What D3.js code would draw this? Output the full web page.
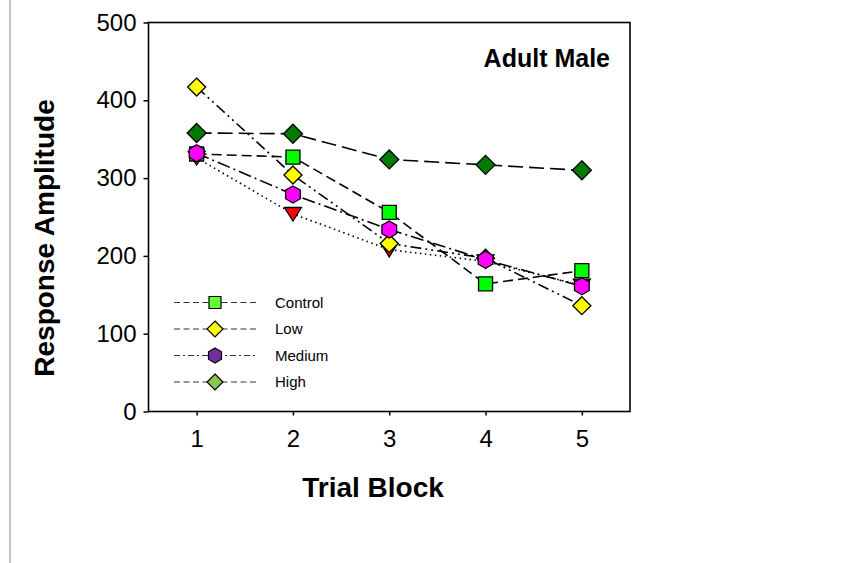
<!DOCTYPE html>
<html><head><meta charset="utf-8">
<script src="https://cdn.jsdelivr.net/npm/d3@7"></script>
<style>body{margin:0;background:#fff}svg{display:block}text{font-family:"Liberation Sans",Arial,sans-serif}</style>
</head><body>
<svg id="c" width="860" height="563"></svg>
<script>
const trials = [1, 2, 3, 4, 5];
const controlVals = [331, 327, 256, 164, 181];
const lowVals = [417, 304, 216, 197, 136];
const mediumVals = [332, 279, 234, 195, 161];
const highVals = [358, 357, 324, 317, 310];
const extraVals = [326, 254, 208, 193, 162];
const yTicks = [0, 100, 200, 300, 400, 500];
const legendLabels = ["Control", "Low", "Medium", "High"];
const titleText = "Adult Male";
const xTitle = "Trial Block";
const yTitle = "Response Amplitude";

const svg = d3.select("#c");
svg.append("rect").attr("width", 860).attr("height", 563).attr("fill", "#fff");
svg.append("line").attr("x1", 10).attr("x2", 10).attr("y1", 0).attr("y2", 563)
  .attr("stroke", "#c4c4c4").attr("stroke-width", 2);

const L = 148.5, R = 630, T = 22.5, B = 411.5;
const x = d3.scaleLinear().domain([0.5, 5.5]).range([L, R]);
const y = d3.scaleLinear().domain([0, 500]).range([B, T]);

// frame
svg.append("rect").attr("x", L).attr("y", T).attr("width", R - L).attr("height", B - T)
  .attr("fill", "none").attr("stroke", "#000").attr("stroke-width", 1.6);

// y axis
const yAxis = d3.axisLeft(y).tickValues(yTicks).tickSize(5).tickPadding(7).tickFormat(d3.format("d"));
const gy = svg.append("g").attr("transform", `translate(${L},0)`).call(yAxis);
gy.select(".domain").remove();
gy.selectAll("line").attr("stroke-width", 1.5);
gy.selectAll("text").attr("font-size", 24).attr("fill", "#000");

// x axis
const xAxis = d3.axisBottom(x).tickValues(trials).tickSize(4).tickPadding(14).tickFormat(d3.format("d"));
const gx = svg.append("g").attr("transform", `translate(0,${B})`).call(xAxis);
gx.select(".domain").remove();
gx.selectAll("line").attr("stroke-width", 1.5);
gx.selectAll("text").attr("font-size", 24).attr("fill", "#000");

svg.append("text").attr("x", 373).attr("y", 497).attr("text-anchor", "middle")
  .attr("font-size", 28).attr("font-weight", "bold").text(xTitle);
svg.append("text").attr("transform", `translate(54,238) rotate(-90)`)
  .attr("text-anchor", "middle").attr("font-size", 28).attr("font-weight", "bold").text(yTitle);
svg.append("text").attr("x", 610).attr("y", 67).attr("text-anchor", "end")
  .attr("font-size", 25).attr("font-weight", "bold").text(titleText);

// marker shapes
function shapePath(kind, s) {
  if (kind === "square") return `M${-s},${-s}H${s}V${s}H${-s}Z`;
  if (kind === "diamond") return `M0,${-s}L${s},0L0,${s}L${-s},0Z`;
  if (kind === "tri") return `M${-s},${-s * 0.75}L${s},${-s * 0.75}L0,${s * 0.85}Z`;
  if (kind === "hex") {
    const p = d3.range(6).map(i => { const a = Math.PI / 3 * i - Math.PI / 2; return [s * Math.cos(a), s * Math.sin(a)]; });
    return "M" + p.map(q => q.join(",")).join("L") + "Z";
  }
}

const series = [
  { vals: extraVals, color: "#ff0000", shape: "tri", size: 8.5, dash: "1.5,3.5" },
  { vals: controlVals, color: "#00ff00", shape: "square", size: 7, dash: "10,5" },
  { vals: lowVals, color: "#ffff00", shape: "diamond", size: 9, dash: "11,4,2,4,2,4" },
  { vals: mediumVals, color: "#ff00ff", shape: "hex", size: 8.5, dash: "13,4,2,4" },
  { vals: highVals, color: "#007a00", shape: "diamond", size: 9.5, dash: "15,6" }
];

const line = d3.line().x((d, i) => x(trials[i])).y(d => y(d));
series.forEach(s => {
  svg.append("path").attr("d", line(s.vals)).attr("fill", "none").attr("stroke", "#000")
    .attr("stroke-width", 1.6).attr("stroke-dasharray", s.dash);
});
series.forEach(s => {
  svg.append("g").selectAll("path").data(s.vals).join("path")
    .attr("transform", (d, i) => `translate(${x(trials[i])},${y(d)})`)
    .attr("d", shapePath(s.shape, s.size)).attr("fill", s.color)
    .attr("stroke", "#000").attr("stroke-width", 1.3);
});

// legend
const legColors = ["#66ff33", "#ffff00", "#7030a0", "#8bc850"];
const legShapes = ["square", "diamond", "hex", "diamond"];
const legSizes = [6, 8, 7.5, 8];
const legDash = ["6,3.5", "6,3.5", "6,3,2,3", "6,3.5"];
const leg = svg.append("g").selectAll("g").data(legendLabels).join("g")
  .attr("transform", (d, i) => `translate(0,${302.5 + i * 26.5})`);
leg.append("line").attr("x1", 174).attr("x2", 256).attr("y1", 0).attr("y2", 0)
  .attr("stroke", "#333").attr("stroke-width", 1.2).attr("stroke-dasharray", (d, i) => legDash[i]);
leg.append("path").attr("transform", "translate(215,0)")
  .attr("d", (d, i) => shapePath(legShapes[i], legSizes[i]))
  .attr("fill", (d, i) => legColors[i]).attr("stroke", "#000").attr("stroke-width", 1.2);
leg.append("text").attr("x", 275).attr("y", 5).attr("font-size", 15).text(d => d);
</script>
</body></html>
